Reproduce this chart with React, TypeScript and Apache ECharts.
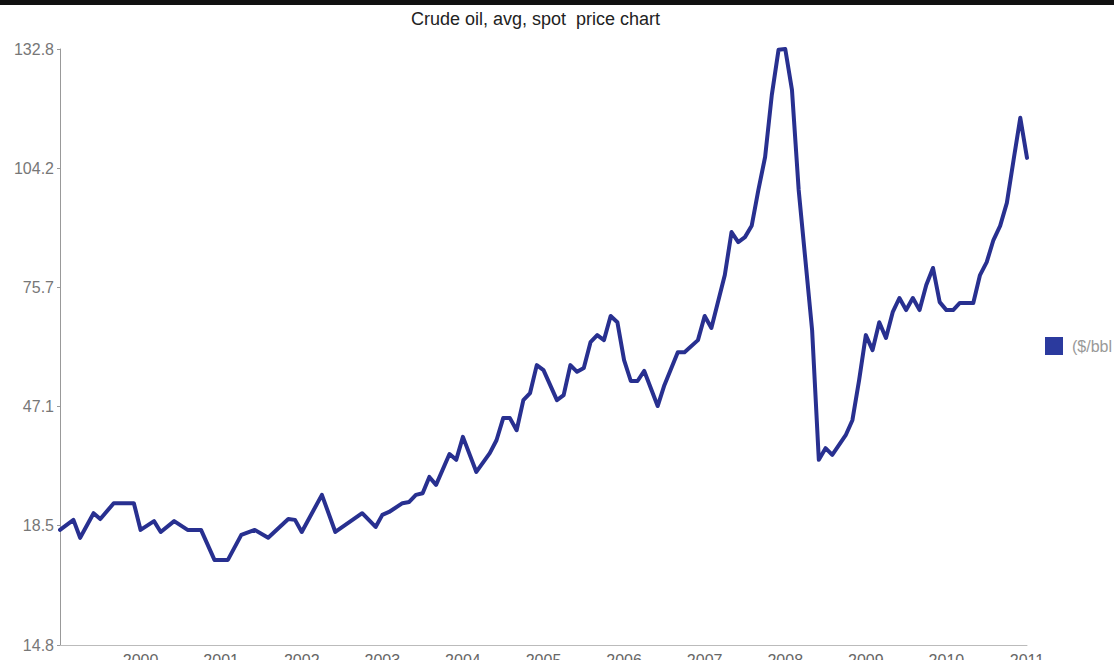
import React, { useEffect, useRef } from "react";
import * as echarts from "echarts";

// Monthly vertices of the line (YYYY-MM) and the price
const months = [
  "1999-01", "1999-03", "1999-04", "1999-06", "1999-07", "1999-09", "1999-12",
  "2000-01", "2000-03", "2000-04", "2000-06", "2000-08", "2000-10", "2000-12",
  "2001-02", "2001-04", "2001-06", "2001-08", "2001-11", "2001-12",
  "2002-01", "2002-04", "2002-06", "2002-10", "2002-12",
  "2003-01", "2003-02", "2003-04", "2003-05", "2003-06", "2003-07", "2003-08", "2003-09", "2003-11", "2003-12",
  "2004-01", "2004-03", "2004-05", "2004-06", "2004-07", "2004-08", "2004-09", "2004-10", "2004-11", "2004-12",
  "2005-01", "2005-03", "2005-04", "2005-05", "2005-06", "2005-07", "2005-08", "2005-09", "2005-10", "2005-11", "2005-12",
  "2006-01", "2006-02", "2006-03", "2006-04", "2006-06", "2006-07", "2006-09", "2006-10", "2006-12",
  "2007-01", "2007-02", "2007-04", "2007-05", "2007-06", "2007-07", "2007-08", "2007-09", "2007-10", "2007-11", "2007-12",
  "2008-01", "2008-02", "2008-03", "2008-04", "2008-05", "2008-06", "2008-07", "2008-08", "2008-10", "2008-11", "2008-12",
  "2009-01", "2009-02", "2009-03", "2009-04", "2009-05", "2009-06", "2009-07", "2009-08", "2009-09", "2009-10", "2009-11", "2009-12",
  "2010-01", "2010-02", "2010-03", "2010-05", "2010-06", "2010-07", "2010-08", "2010-09", "2010-10", "2010-11", "2010-12",
  "2011-01",
];

const prices = [
  17.5, 19.9, 15.6, 21.5, 20.1, 23.9, 23.9,
  17.5, 19.6, 17.0, 19.6, 17.5, 17.5, 10.3,
  10.3, 16.3, 17.5, 15.6, 20.1, 19.9,
  17.0, 25.9, 17.0, 21.5, 18.2,
  21.1, 21.8, 23.9, 24.2, 25.9, 26.3, 30.2, 28.3, 35.7, 34.3,
  39.8, 31.4, 35.9, 39.0, 44.3, 44.3, 41.4, 48.6, 50.3, 57.0,
  55.8, 48.6, 49.8, 57.0, 55.4, 56.3, 62.5, 64.2, 63.0, 68.8, 67.3,
  58.2, 53.2, 53.2, 55.6, 47.2, 52.2, 60.1, 60.1, 63.0,
  68.8, 65.9, 78.6, 88.9, 86.5, 87.7, 90.4, 99.0, 106.9, 121.8, 132.6,
  132.8, 123.0, 99.0, 82.2, 65.4, 34.3, 37.1, 35.5, 40.2, 43.8, 53.4,
  64.2, 60.6, 67.3, 63.5, 69.7, 73.1, 70.2, 73.1, 70.2, 76.2, 80.3, 72.1,
  70.2, 70.2, 71.9, 71.9, 78.6, 81.7, 87.0, 90.4, 95.9, 106.2, 116.3,
  106.7,
];

const yTickValues = [-10.1, 18.5, 47.1, 75.7, 104.2, 132.8];
const yTickLabels = ["14.8", "18.5", "47.1", "75.7", "104.2", "132.8"];
const startYear = 1999;
const endYear = 2011;

const seriesName = "($/bbl";
const titleText = "Crude oil, avg, spot  price chart";

function monthIndex(s: string): number {
  const [y, m] = s.split("-").map(Number);
  return (y - startYear) * 12 + (m - 1);
}

export default function App() {
  const ref = useRef<HTMLDivElement>(null);

  useEffect(() => {
    document.body.style.margin = "0";
    if (!ref.current) return;
    const chart = echarts.init(ref.current, null, { renderer: "svg" });
    const data = months.map((m, i) => [monthIndex(m), prices[i]]);
    const font = "'Liberation Sans', Arial, Helvetica, sans-serif";

    chart.setOption({
      animation: false,
      backgroundColor: "#ffffff",
      textStyle: { fontFamily: font },
      title: {
        text: titleText,
        left: 411,
        top: 10,
        padding: 0,
        textStyle: { fontSize: 18, fontWeight: "normal", color: "#222", fontFamily: font },
      },
      legend: {
        left: 1045,
        top: 337,
        padding: 0,
        icon: "rect",
        itemWidth: 18,
        itemHeight: 18,
        textStyle: { color: "#999", fontSize: 16, fontFamily: font, padding: [0, 0, 0, 4] },
        data: [{ name: seriesName, itemStyle: { color: "#2b3a9e" } }],
      },
      graphic: [
        { type: "rect", left: 0, top: 0, shape: { width: 1114, height: 5 }, style: { fill: "#111" } },
      ],
      grid: { left: 60, right: 87, top: 49, bottom: 15, containLabel: false, outerBoundsMode: "none" },
      xAxis: {
        type: "value",
        min: 0,
        max: (endYear - startYear) * 12,
        interval: 12,
        axisLine: { show: true, onZero: false, lineStyle: { color: "#bbb", width: 1 } },
        axisTick: { show: false },
        splitLine: { show: false },
        axisLabel: {
          color: "#666",
          fontSize: 16,
          margin: 7,
          fontFamily: font,
          showMinLabel: false,
          formatter: (v: number) => (v === 0 ? "" : String(startYear + Math.round(v / 12))),
        },
      },
      yAxis: {
        type: "value",
        min: yTickValues[0],
        max: yTickValues[yTickValues.length - 1],
        axisLine: { show: true, lineStyle: { color: "#999", width: 1 } },
        axisTick: { show: true, length: 3, lineStyle: { color: "#999" }, customValues: yTickValues },
        splitLine: { show: false },
        axisLabel: {
          color: "#777",
          fontSize: 16,
          margin: 6,
          fontFamily: font,
          customValues: yTickValues,
          formatter: (v: number) => {
            let best = 0;
            for (let i = 1; i < yTickValues.length; i++) {
              if (Math.abs(yTickValues[i] - v) < Math.abs(yTickValues[best] - v)) best = i;
            }
            return yTickLabels[best];
          },
        },
      },
      series: [
        {
          name: seriesName,
          type: "line",
          data,
          showSymbol: false,
          symbol: "none",
          smooth: false,
          itemStyle: { color: "#2b3a9e" },
          lineStyle: { color: "#283090", width: 4, join: "round", cap: "round" },
        },
      ],
    });

    return () => chart.dispose();
  }, []);

  return <div ref={ref} style={{ width: 1114, height: 660, position: "absolute", left: 0, top: 0 }} />;
}
